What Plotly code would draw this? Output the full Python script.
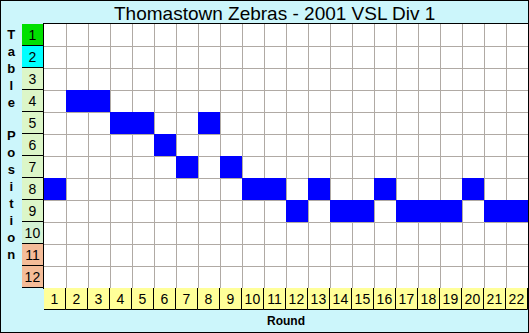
import plotly.graph_objects as go

# ---- data ----
rounds = list(range(1, 23))
positions = [8, 4, 4, 5, 5, 6, 7, 5, 7, 8, 8, 9, 8, 9, 9, 8, 9, 9, 9, 8, 9, 9]
table_rows = list(range(1, 13))
row_colors = ["#00e000", "#00ffff"] + ["#dcf6c8"] * 7 + ["#d4f2d4"] + ["#f4bc98"] * 2
round_label_color = "#ffff99"
title = "Thomastown Zebras - 2001 VSL Div 1"
x_title = "Round"
y_title = "Table Position"

W, H = 529, 333
FONT = "Liberation Sans, Arial, sans-serif"

def px_x(p):
    return p / W

def px_y(p):
    return 1 - p / H

# z matrix for the occupied cells
z = [[None] * len(rounds) for _ in table_rows]
for r, p in zip(rounds, positions):
    z[p - 1][r - 1] = 1

fig = go.Figure()

# main grid heatmap
fig.add_trace(go.Heatmap(
    x=rounds, y=table_rows, z=z,
    colorscale=[[0, "#0000ff"], [1, "#0000ff"]],
    showscale=False, hoverinfo="skip",
    xaxis="x", yaxis="y",
))

# left label column (table positions)
fig.add_trace(go.Bar(
    orientation="h", y=table_rows, x=[1] * len(table_rows), width=1,
    marker=dict(color=row_colors, line=dict(color="black", width=1)),
    text=[str(v) for v in table_rows], textposition="inside",
    insidetextanchor="middle", textangle=0, constraintext="none",
    textfont=dict(family=FONT, size=14, color="black"),
    cliponaxis=False, hoverinfo="skip",
    xaxis="x2", yaxis="y2",
))

# bottom label row (rounds)
fig.add_trace(go.Bar(
    x=rounds, y=[1] * len(rounds), width=1,
    marker=dict(color=round_label_color, line=dict(color="black", width=1)),
    text=[str(v) for v in rounds], textposition="inside",
    insidetextanchor="middle", textangle=0, constraintext="none",
    textfont=dict(family=FONT, size=14, color="black"),
    cliponaxis=False, hoverinfo="skip",
    xaxis="x3", yaxis="y3",
))

main_x = [px_x(44), px_x(528)]
main_y = [px_y(288), px_y(24)]

fig.update_layout(
    width=W, height=H,
    margin=dict(l=0, r=0, t=0, b=0),
    paper_bgcolor="#ccf6fb",
    plot_bgcolor="white",
    showlegend=False,
    font=dict(family=FONT, color="black"),
    uniformtext=dict(minsize=14, mode="show"),
    xaxis=dict(domain=main_x, range=[0.5, 22.5], tickmode="linear", tick0=0.5, dtick=1,
               showgrid=True, gridcolor="#b0aaa4", gridwidth=1, zeroline=False,
               showticklabels=False, ticks="", showline=True, linecolor="black",
               linewidth=1, mirror=True, fixedrange=True),
    yaxis=dict(domain=main_y, range=[12.5, 0.5], tickmode="linear", tick0=0.5, dtick=1,
               showgrid=True, gridcolor="#b0aaa4", gridwidth=1, zeroline=False,
               showticklabels=False, ticks="", showline=True, linecolor="black",
               linewidth=1, mirror=True, fixedrange=True),
    xaxis2=dict(domain=[px_x(22), px_x(44)], range=[0, 1], visible=False, fixedrange=True),
    yaxis2=dict(domain=main_y, range=[12.5, 0.5], visible=False, fixedrange=True),
    xaxis3=dict(domain=main_x, range=[0.5, 22.5], visible=False, fixedrange=True),
    yaxis3=dict(domain=[px_y(310), px_y(288)], range=[0, 1], visible=False, fixedrange=True),
    bargap=0,
)

fig.add_annotation(
    text=title, x=px_x(274), y=px_y(13), xref="paper", yref="paper",
    xanchor="center", yanchor="middle", showarrow=False,
    font=dict(family=FONT, size=19, color="black"),
)
fig.add_annotation(
    text="<b>" + x_title + "</b>", x=px_x(286), y=px_y(321), xref="paper", yref="paper",
    xanchor="center", yanchor="middle", showarrow=False,
    font=dict(family=FONT, size=12, color="black"),
)
fig.add_annotation(
    text="<b>" + "<br>".join(ch if ch != " " else "" for ch in y_title) + "</b>",
    x=px_x(11), y=px_y(144), xref="paper", yref="paper",
    xanchor="center", yanchor="middle", showarrow=False, align="center",
    font=dict(family=FONT, size=13, color="black"),
)

# outer frame
fig.add_shape(type="rect", xref="paper", yref="paper", x0=0, y0=0, x1=1, y1=1,
              line=dict(color="black", width=2), layer="above")

fig.write_html("out.html")
